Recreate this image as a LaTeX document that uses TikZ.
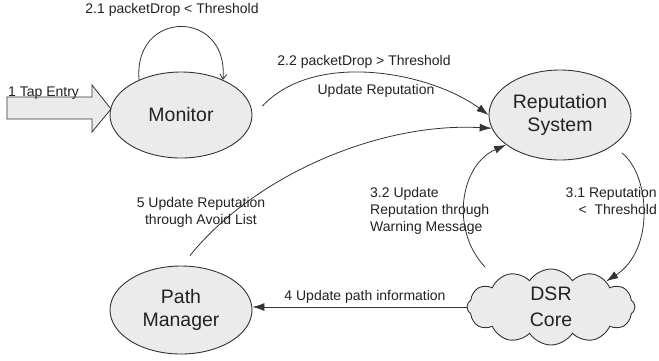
\documentclass[tikz,border=0pt]{standalone}
\usepackage{fontspec}
\setmainfont{Liberation Sans}
\usetikzlibrary{shapes.geometric,shapes.symbols,arrows.meta}
\definecolor{linec}{HTML}{333333}
\definecolor{textc}{HTML}{222222}
\definecolor{fillc}{HTML}{EBEBEB}
\tikzset{
  proc/.style={ellipse,draw=linec,fill=fillc,line width=0.9pt,minimum width=142pt,minimum height=86pt,inner sep=0pt,align=center,text=textc,font=\fontsize{19.5}{23}\selectfont},
  cloudbox/.style={cloud,cloud puffs=12,cloud puff arc=115,aspect=2.3,draw=linec,fill=fillc,line width=0.9pt,minimum width=168pt,minimum height=76pt,inner sep=0pt,align=center,text=textc,font=\fontsize{19.5}{26}\selectfont},
  lbl/.style={text=textc,font=\fontsize{14}{17}\selectfont,inner sep=0pt},
  conn/.style={draw=linec,line width=0.8pt,-{Latex[length=12pt,width=8pt]}},
  loopconn/.style={draw=linec,line width=0.8pt,-{Straight Barb[length=5pt,width=7pt]}},
}
\begin{document}
\begin{tikzpicture}[x=1pt,y=-1pt]
\useasboundingbox (0,0) rectangle (659,360);
% nodes
\node[proc] (mon) at (181,115) {Monitor};
\node[proc,minimum height=90pt] (rep) at (560,115) {Reputation\\System};
\node[proc,minimum height=88pt] (pm) at (181,310) {Path\\Manager};
\node[cloudbox] (dsr) at (551,307) {DSR\\Core};
% tap entry block arrow
\draw[draw=linec,fill=fillc,line width=0.8pt] (7,97) -- (92,97) -- (92,85) -- (111,109) -- (92,132) -- (92,119) -- (7,119) -- cycle;
\node[lbl,anchor=west] (ltap) at (8,93) {1 Tap Entry};
% self loop
\draw[loopconn] (mon.140) .. controls +(-6,-71) and +(6,-71) .. (mon.40);
\node[lbl] (l21) at (172,10) {2.1 packetDrop < Threshold};
% 2.2
\coordinate (s22) at ([shift={(10,-9)}]mon.east);
\draw[conn] (s22) .. controls (315,50) and (430,72) .. (rep.west);
\node[lbl] (l22) at (364,62) {2.2 packetDrop > Threshold};
\node[lbl] (lur) at (376,91) {Update Reputation};
% 5
\coordinate (s5) at ([shift={(9,-10)}]pm.north);
\draw[conn] (s5) .. controls (255,175) and (380,122) .. (rep.191);
\node[lbl,align=center] (l5) at (201,212) {5 Update Reputation\\through Avoid List};
% 3.2
\coordinate (s32) at ([shift={(-66,-40)}]dsr.center);
\draw[conn] (s32) .. controls (450,230) and (460,165) .. (rep.209);
\node[lbl,align=left,anchor=north west] (l32) at (370,187) {3.2 Update\\Reputation through\\Warning Message};
% 3.1
\coordinate (s31) at ([shift={(62,38)}]rep.center);
\draw[conn] (s31) .. controls (650,175) and (655,250) .. (dsr.25);
\node[lbl,align=right,anchor=north east] (l31) at (657,187) {3.1 Reputation\\<\ \ Threshold};
% 4
\draw[conn] (dsr.west) -- (dsr.west -| pm.east);
\node[lbl] (l4) at (365,297) {4 Update path information};
\end{tikzpicture}
\end{document}
